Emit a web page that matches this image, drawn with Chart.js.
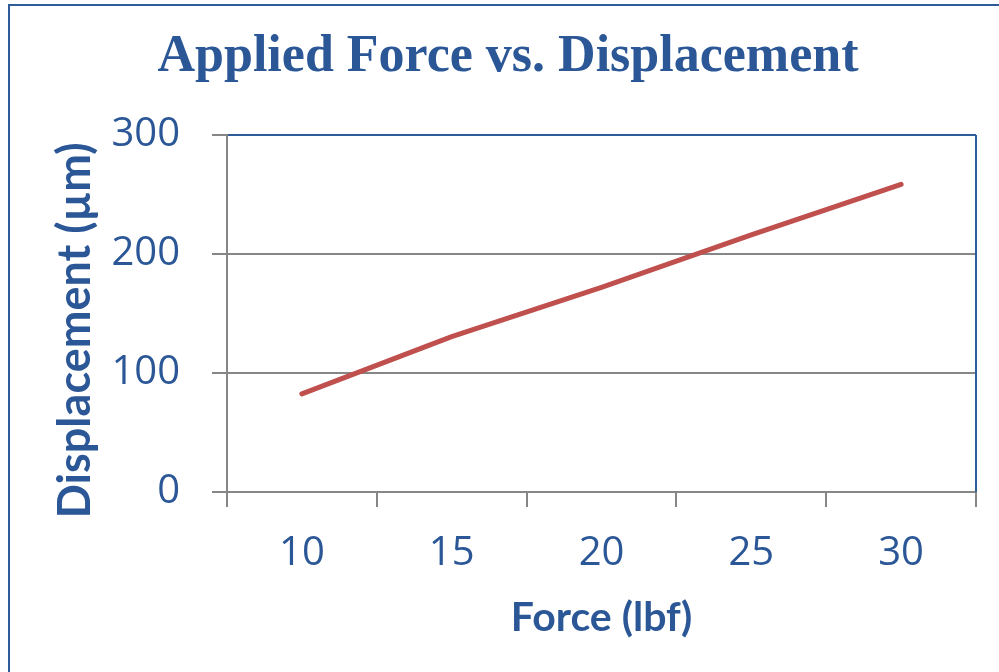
<!DOCTYPE html>
<html>
<head>
<meta charset="utf-8">
<script src="https://cdn.jsdelivr.net/npm/chart.js@4/dist/chart.umd.min.js"></script>
<style>
	html, body { margin: 0; padding: 0; background: #fff; overflow: hidden; }
	#wrap { position: relative; width: 999px; height: 672px; }
	#frame { position: absolute; left: 8px; top: 4px; width: 1100px; height: 800px;
		border-left: 2px solid #2d5c98; border-top: 2px solid #2d5c98; }
</style>
</head>
<body>
<div id="wrap">
	<canvas id="force-chart" width="999" height="672"></canvas>
	<div id="frame"></div>
</div>
<script>
( function() {
	'use strict';

	// valores
	var forceLabels = ["10", "15", "20", "25", "30"];
	var displacement = [82.5, 130.5, 172, 216, 258.5];
	var yTicks = [0, 100, 200, 300];

	var blue = "#2b5797";
	var frameBlue = "#2d5c98";
	var gray = "#868686";

	/**
	 * Borda direita da área do gráfico
	 */
	var plotFrame = {
		id: 'plotFrame',
		afterDraw: function(chart) {
			var a = chart.chartArea;
			var ctx = chart.ctx;
			ctx.save();
			ctx.strokeStyle = frameBlue;
			ctx.lineWidth = 2;
			ctx.beginPath();
			ctx.moveTo(a.right, a.top);
			ctx.lineTo(a.right, a.bottom);
			ctx.stroke();
			ctx.restore();
		}
	};

	var dataChart = {
		labels: forceLabels,
		datasets: [
			{
				label: "Displacement",
				data: displacement,
				borderColor: "#c0504d",
				backgroundColor: "#c0504d",
				borderWidth: 5,
				borderCapStyle: 'round',
				borderJoinStyle: 'round',
				pointRadius: 0,
				tension: 0,
				fill: false
			}
		]
	};

	var ctx = document.getElementById("force-chart");
	var chartLine = new Chart(ctx, {
		type: 'line',
		data: dataChart,
		plugins: [plotFrame],
		options: {
			responsive: false,
			animation: false,
			devicePixelRatio: 1,
			layout: { padding: { left: 40, right: 23, top: 0, bottom: 0 } },
			plugins: {
				legend: { display: false },
				tooltip: { enabled: false },
				title: {
					display: true,
					text: "Applied Force vs. Displacement",
					color: blue,
					font: { family: "'Liberation Serif', serif", size: 52, weight: 'bold', lineHeight: 1.2 },
					padding: { top: 26, bottom: 46.6 }
				}
			},
			scales: {
				x: {
					type: 'category',
					offset: true,
					afterFit: function(scale) { scale.height = 180; },
					grid: {
						offset: true,
						drawOnChartArea: false,
						drawTicks: true,
						tickLength: 15,
						tickColor: gray,
						lineWidth: 2
					},
					border: { display: true, color: gray, width: 2 },
					ticks: {
						color: blue,
						padding: 23,
						maxRotation: 0,
						font: { family: "'Open Sans', sans-serif", size: 40 }
					},
					title: {
						display: true,
						text: "Force (lbf)",
						color: blue,
						font: { family: "Lato, sans-serif", size: 41, weight: 'bold', lineHeight: 1.2 },
						padding: { top: 0, bottom: 30 }
					}
				},
				y: {
					min: 0,
					max: 300,
					afterFit: function(scale) { scale.width = 187; },
					afterBuildTicks: function(scale) {
						scale.ticks = yTicks.map(function(v) { return { value: v }; });
					},
					grid: {
						color: function(c) { return c.tick && c.tick.value === 300 ? frameBlue : gray; },
						lineWidth: 2,
						drawTicks: true,
						tickLength: 15,
						tickColor: gray
					},
					border: { display: true, color: gray, width: 2 },
					ticks: {
						color: blue,
						padding: 32,
						font: { family: "'Open Sans', sans-serif", size: 40 }
					},
					title: {
						display: true,
						// o espaço final desloca o título para baixo, como no original
						text: "Displacement (µm)\u2003",
						color: blue,
						font: { family: "Lato, sans-serif", size: 45, weight: 'bold', lineHeight: 1.2 },
						padding: { top: 8, bottom: 0 }
					}
				}
			}
		}
	});
})();
</script>
</body>
</html>
